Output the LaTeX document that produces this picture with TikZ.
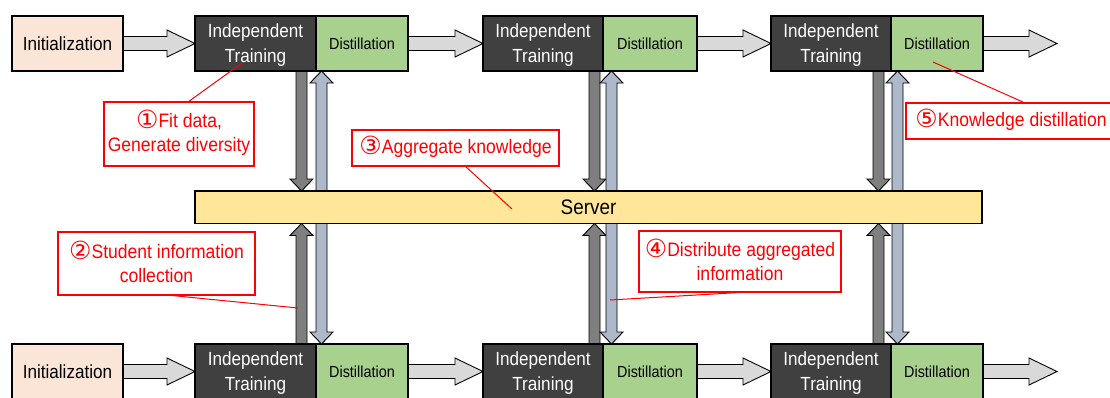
\documentclass[tikz,border=0pt]{standalone}
\usepackage{fontspec}
\setmainfont{Liberation Sans}[FakeStretch=0.9]
\newfontfamily\circfont{DejaVu Sans}
\usetikzlibrary{calc,backgrounds}

\definecolor{initfill}{HTML}{FBE5D6}
\definecolor{trainfill}{HTML}{404040}
\definecolor{distfill}{HTML}{A9D18E}
\definecolor{serverfill}{HTML}{FFE699}
\definecolor{flowfill}{HTML}{D9D9D9}
\definecolor{upfill}{HTML}{7F7F7F}
\definecolor{downfill}{HTML}{ADB9CA}
\definecolor{notered}{HTML}{FF0000}

% circled step number
\newcommand\stepno[1]{\smash{\raisebox{-1.5pt}{\circfont\fontsize{25}{25}\selectfont #1}}}

% horizontal block arrow: tail point, tip point (same height)
\newcommand\hflow[2]{%
  \draw[flowarrow, fill=flowfill] let \p1=(#1), \p2=(#2) in
    (\x1,\y1+7pt) -- (\x2-28pt,\y1+7pt) -- (\x2-28pt,\y1+13.5pt) -- (\x2,\y1)
    -- (\x2-28pt,\y1-13.5pt) -- (\x2-28pt,\y1-7pt) -- (\x1,\y1-7pt) -- cycle;}

% vertical block arrows: fill, column point, tail, tip
\newcommand\vflowdown[4]{%
  \draw[flowarrow, fill=#1] let \p3=(#2), \p1=(#3), \p2=(#4) in
    (\x3-5.5pt,\y1) -- (\x3-5.5pt,\y2+12pt) -- (\x3-11.5pt,\y2+12pt) -- (\x3,\y2)
    -- (\x3+11.5pt,\y2+12pt) -- (\x3+5.5pt,\y2+12pt) -- (\x3+5.5pt,\y1) -- cycle;}
\newcommand\vflowup[4]{%
  \draw[flowarrow, fill=#1] let \p3=(#2), \p1=(#3), \p2=(#4) in
    (\x3-5.5pt,\y1) -- (\x3-5.5pt,\y2-12pt) -- (\x3-11.5pt,\y2-12pt) -- (\x3,\y2)
    -- (\x3+11.5pt,\y2-12pt) -- (\x3+5.5pt,\y2-12pt) -- (\x3+5.5pt,\y1) -- cycle;}

\begin{document}
\begin{tikzpicture}[x=1pt, y=-1pt,
  every node/.style={inner sep=0pt, outer sep=0pt},
  stage/.style={draw=black, line width=1.1pt, anchor=north west, minimum height=55pt,
    align=center, font=\fontsize{19}{25}\selectfont},
  initbox/.style={stage, fill=initfill, minimum width=111pt},
  trainbox/.style={stage, fill=trainfill, text=white, text depth=0pt},
  distbox/.style={stage, fill=distfill, font=\fontsize{16}{20}\selectfont},
  serverbox/.style={draw=black, line width=1.1pt, anchor=north west, fill=serverfill,
    minimum width=787pt, minimum height=32.5pt, font=\fontsize{21}{25}\selectfont},
  flowarrow/.style={draw=black, line width=0.9pt, line join=miter},
  note/.style={draw=notered, line width=1.2pt, fill=white, text=notered, anchor=north west,
    align=center, font=\fontsize{19.5}{24}\selectfont},
  noteline/.style={draw=notered, line width=1pt},
]
\useasboundingbox (0,0) rectangle (1110,397);

% top row of stages
\node[initbox] (init1) at (12,16) {Initialization};
\node[trainbox, minimum width=121pt] (it1) at (195,16) {Independent\\Training};
\node[distbox, minimum width=92pt] (di1) at (316,16) {Distillation};
\node[trainbox, minimum width=120pt] (it2) at (483,16) {Independent\\Training};
\node[distbox, minimum width=94pt] (di2) at (603,16) {Distillation};
\node[trainbox, minimum width=120pt] (it3) at (771,16) {Independent\\Training};
\node[distbox, minimum width=92pt] (di3) at (891,16) {Distillation};

% bottom row of stages
\node[initbox] (init2) at (12,344) {Initialization};
\node[trainbox, minimum width=121pt] (jt1) at (195,344) {Independent\\Training};
\node[distbox, minimum width=92pt] (dj1) at (316,344) {Distillation};
\node[trainbox, minimum width=120pt] (jt2) at (483,344) {Independent\\Training};
\node[distbox, minimum width=94pt] (dj2) at (603,344) {Distillation};
\node[trainbox, minimum width=120pt] (jt3) at (771,344) {Independent\\Training};
\node[distbox, minimum width=92pt] (dj3) at (891,344) {Distillation};

% server
\node[serverbox] (server) at (195,191) {Server};

\coordinate (out1) at ($(di3.east)+(74,0)$);
\coordinate (out2) at ($(dj3.east)+(74,0)$);

\begin{scope}[on background layer]
  % flow between stages
  \hflow{init1.east}{it1.west}
  \hflow{di1.east}{it2.west}
  \hflow{di2.east}{it3.west}
  \hflow{di3.east}{out1}
  \hflow{init2.east}{jt1.west}
  \hflow{dj1.east}{jt2.west}
  \hflow{dj2.east}{jt3.west}
  \hflow{dj3.east}{out2}

  % top clients <-> server
  \vflowdown{upfill}{$(it1.south east)+(-14.5,0)$}{it1.south}{server.north}
  \vflowup{downfill}{$(it1.south east)+(5.5,0)$}{server.north}{di1.south}
  \vflowdown{upfill}{$(it2.south east)+(-8.5,0)$}{it2.south}{server.north}
  \vflowup{downfill}{$(it2.south east)+(8.5,0)$}{server.north}{di2.south}
  \vflowdown{upfill}{$(it3.south east)+(-12.5,0)$}{it3.south}{server.north}
  \vflowup{downfill}{$(it3.south east)+(6.5,0)$}{server.north}{di3.south}

  % bottom clients <-> server
  \vflowup{upfill}{$(jt1.north east)+(-14.5,0)$}{jt1.north}{server.south}
  \vflowdown{downfill}{$(jt1.north east)+(5.5,0)$}{server.south}{dj1.north}
  \vflowup{upfill}{$(jt2.north east)+(-8.5,0)$}{jt2.north}{server.south}
  \vflowdown{downfill}{$(jt2.north east)+(8.5,0)$}{server.south}{dj2.north}
  \vflowup{upfill}{$(jt3.north east)+(-12.5,0)$}{jt3.north}{server.south}
  \vflowdown{downfill}{$(jt3.north east)+(6.5,0)$}{server.south}{dj3.north}
\end{scope}

% annotations
\node[note, minimum width=150pt, minimum height=64pt] (n1) at (104,102)
  {\stepno{①}Fit data,\\Generate diversity};
\coordinate (t1) at (242,63);
\draw[noteline] ($(n1.north west)!0.56!(n1.north east)$) -- (t1);

\node[note, minimum width=207pt, minimum height=36pt] (n3) at (352,130)
  {\stepno{③}Aggregate knowledge};
\coordinate (t3) at (512,209);
\draw[noteline] ($(n3.south west)!0.546!(n3.south east)$) -- (t3);

\node[note, minimum width=210pt, minimum height=36pt] (n5) at (906,103)
  {\stepno{⑤}Knowledge distillation};
\coordinate (t5) at (933,62);
\draw[noteline] ($(n5.north west)!0.567!(n5.north east)$) -- (t5);

\node[note, minimum width=197pt, minimum height=63pt] (n2) at (58,232)
  {\stepno{②}Student information\\collection};
\coordinate (t2) at (298,308);
\draw[noteline] ($(n2.south west)!0.553!(n2.south east)$) -- (t2);

\node[note, minimum width=202pt, minimum height=61pt] (n4) at (639,231)
  {\stepno{④}Distribute aggregated\\information};
\coordinate (t4) at (610,300);
\draw[noteline] ($(n4.south west)!0.54!(n4.south east)$) -- (t4);
\end{tikzpicture}
\end{document}
